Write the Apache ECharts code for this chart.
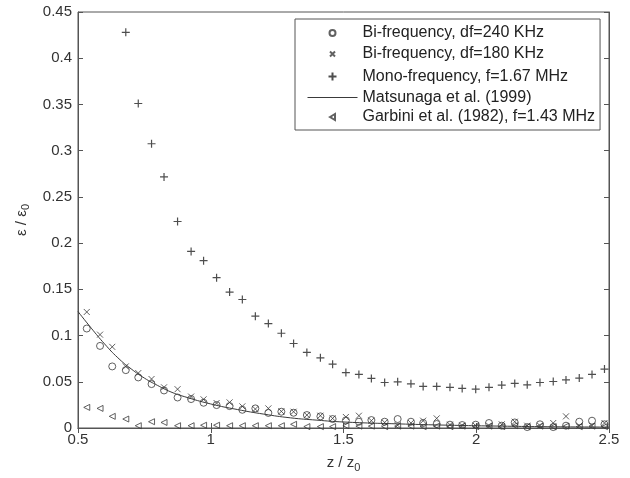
<!DOCTYPE html>
<html>
<head>
<meta charset="utf-8">
<script src="https://cdn.jsdelivr.net/npm/echarts@6/dist/echarts.min.js"></script>
<style>
  html, body { margin: 0; padding: 0; background: #fff; }
  #main { width: 630px; height: 478px; }
</style>
</head>
<body>
<div id="main"></div>
<script>
// z / z0 positions of the measurement points
var zPos = [0.533, 0.583, 0.629, 0.680, 0.727, 0.777, 0.824, 0.875, 0.926, 0.973,
  1.022, 1.071, 1.119, 1.168, 1.217, 1.266, 1.312, 1.362, 1.413, 1.459,
  1.509, 1.558, 1.605, 1.655, 1.704, 1.754, 1.800, 1.851, 1.901, 1.947,
  1.998, 2.048, 2.096, 2.145, 2.192, 2.240, 2.290, 2.338, 2.388, 2.436, 2.483];

var bi240 = [0.1076, 0.0888, 0.0666, 0.0626, 0.0547, 0.0475, 0.0406, 0.033, 0.0313, 0.0273,
  0.0248, 0.0237, 0.0197, 0.0212, 0.0163, 0.0176, 0.0165, 0.014, 0.0126, 0.0097,
  0.0082, 0.0068, 0.0086, 0.0068, 0.0097, 0.0068, 0.0054, 0.0043, 0.0036, 0.0032,
  0.0036, 0.0054, 0.0025, 0.006, 0.001, 0.004, 0.001, 0.0025, 0.0068, 0.0079, 0.004];

var bi180 = [0.1255, 0.101, 0.0878, 0.0666, 0.0594, 0.053, 0.044, 0.042, 0.034, 0.031,
  0.027, 0.0277, 0.0234, 0.0205, 0.0212, 0.018, 0.0176, 0.014, 0.0133, 0.0104,
  0.0119, 0.0133, 0.0079, 0.006, 0.003, 0.0054, 0.0079, 0.0104, 0.0036, 0.0025,
  0.0025, 0.0025, 0.004, 0.0068, 0.0025, 0.0025, 0.0054, 0.0126, 0.0025, 0.0025, 0.0054];

// mono-frequency starts at the 4th position
var mono = [0.428, 0.351, 0.3075, 0.2716, 0.2234, 0.191, 0.181, 0.1626, 0.147, 0.139,
  0.121, 0.113, 0.1025, 0.0914, 0.0817, 0.0759, 0.069, 0.060, 0.058, 0.0536,
  0.0492, 0.050, 0.0478, 0.045, 0.045, 0.044, 0.0428, 0.042, 0.044, 0.0464,
  0.0482, 0.0467, 0.0492, 0.0503, 0.052, 0.054, 0.058, 0.0637];

var garbini = [0.0223, 0.0212, 0.0126, 0.0097, 0.0025, 0.0068, 0.006, 0.0025, 0.0025, 0.003,
  0.003, 0.0025, 0.0025, 0.0025, 0.0025, 0.0025, 0.004, 0.0015, 0.0015, 0.0015,
  0.0025, 0.002, 0.002, 0.0015, 0.002, 0.002, 0.0015, 0.002, 0.0015, 0.002,
  0.0015, 0.002, 0.0015, 0.0025, 0.0015, 0.002, 0.0015, 0.002, 0.0015, 0.002, 0.0015];

// Matsunaga et al. (1999) curve
var matsuZ = [0.5, 0.55, 0.6, 0.65, 0.7, 0.75, 0.8, 0.85, 0.9, 1.0,
  1.1, 1.2, 1.3, 1.4, 1.5, 1.7, 1.9, 2.1, 2.3, 2.5];
var matsuE = [0.126, 0.108, 0.091, 0.076, 0.064, 0.054, 0.046, 0.039, 0.034, 0.026,
  0.02, 0.015, 0.011, 0.0085, 0.0065, 0.0045, 0.003, 0.002, 0.0013, 0.001];

var names = ['Bi-frequency, df=240 KHz', 'Bi-frequency, df=180 KHz',
  'Mono-frequency, f=1.67 MHz', 'Matsunaga et al. (1999)', 'Garbini et al. (1982), f=1.43 MHz'];

function pairs(xs, ys, offset) {
  var out = [];
  for (var i = 0; i < ys.length; i++) out.push([xs[i + offset], ys[i]]);
  return out;
}

var ink = '#3a3a3a';
var font = 'Liberation Sans, Arial, sans-serif';

// legend icons: the leading moves span the full 50x14 slot so the mark stays small
var box = 'path://M0,0M50,14';
var legendIcons = [
  box + 'M28,7A3,3,0,1,1,22,7A3,3,0,1,1,28,7Z',
  box + 'M22.5,4.5L27.5,9.5M27.5,4.5L22.5,9.5',
  box + 'M25,3L25,11M21,7L29,7',
  box + 'M0,6.5L50,6.5L50,7.5L0,7.5Z',
  box + 'M22.5,7L27.5,4L27.5,10Z'
];

var chart = echarts.init(document.getElementById('main'));

var option = {
  backgroundColor: '#fff',
  animation: false,
  textStyle: { fontFamily: font },
  grid: { left: 78, right: 21, top: 12, bottom: 49, show: true, borderColor: '#555', borderWidth: 1 },
  legend: {
    orient: 'vertical',
    left: 295,
    top: 19,
    padding: [6, 5, 5, 10],
    itemWidth: 50,
    itemHeight: 14,
    itemGap: 3.5,
    backgroundColor: '#fff',
    borderColor: '#555',
    borderWidth: 1,
    borderRadius: 0,
    textStyle: { fontSize: 16, lineHeight: 16, color: '#222', fontFamily: font },
    data: [
      { name: names[0], icon: legendIcons[0] },
      { name: names[1], icon: legendIcons[1] },
      { name: names[2], icon: legendIcons[2] },
      { name: names[3], icon: legendIcons[3], itemStyle: { color: ink, borderWidth: 0 } },
      { name: names[4], icon: legendIcons[4] }
    ]
  },
  xAxis: [{
    type: 'value', min: 0.5, max: 2.5, interval: 0.5,
    name: '{a|z / z}{b|0}', nameLocation: 'middle', nameGap: 24,
    nameTextStyle: { rich: {
      a: { fontSize: 15, color: '#333', fontFamily: font },
      b: { fontSize: 11, color: '#333', fontFamily: font, padding: [10, 0, 0, 0] }
    } },
    axisLine: { lineStyle: { color: '#555' } },
    axisTick: { inside: true, length: 5, lineStyle: { color: '#555' } },
    axisLabel: { fontSize: 15, color: '#333', margin: 4 },
    splitLine: { show: false }
  }, {
    type: 'value', min: 0.5, max: 2.5, interval: 0.5, position: 'top',
    axisLine: { lineStyle: { color: '#555' } },
    axisTick: { inside: true, length: 5, lineStyle: { color: '#555' } },
    axisLabel: { show: false },
    splitLine: { show: false }
  }],
  yAxis: [{
    type: 'value', min: 0, max: 0.45, interval: 0.05,
    name: '{a|ε / ε}{b|0}', nameLocation: 'middle', nameGap: 46, nameRotate: 90,
    nameTextStyle: { rich: {
      a: { fontSize: 15, color: '#333', fontFamily: font },
      b: { fontSize: 11, color: '#333', fontFamily: font, padding: [10, 0, 0, 0] }
    } },
    axisLine: { show: true, lineStyle: { color: '#555' } },
    axisTick: { show: true, inside: true, length: 5, lineStyle: { color: '#555' } },
    axisLabel: { fontSize: 15, color: '#333', margin: 6 },
    splitLine: { show: false }
  }, {
    type: 'value', min: 0, max: 0.45, interval: 0.05, position: 'right',
    axisLine: { show: true, lineStyle: { color: '#555' } },
    axisTick: { show: true, inside: true, length: 5, lineStyle: { color: '#555' } },
    axisLabel: { show: false },
    splitLine: { show: false }
  }],
  series: [{
    name: names[0], type: 'scatter', symbol: 'circle', symbolSize: 7,
    itemStyle: { color: 'rgba(255,255,255,0)', borderColor: ink, borderWidth: 1 },
    data: pairs(zPos, bi240, 0)
  }, {
    name: names[1], type: 'scatter', symbol: 'path://M0,0L10,10M10,0L0,10', symbolSize: 6,
    itemStyle: { color: 'none', borderColor: ink, borderWidth: 1 },
    data: pairs(zPos, bi180, 0)
  }, {
    name: names[2], type: 'scatter', symbol: 'path://M5,0L5,10M0,5L10,5', symbolSize: 8,
    itemStyle: { color: 'none', borderColor: '#222', borderWidth: 1.2 },
    data: pairs(zPos, mono, 3)
  }, {
    name: names[3], type: 'line', smooth: true, showSymbol: false, symbol: 'none',
    lineStyle: { color: ink, width: 1 }, itemStyle: { color: ink },
    data: pairs(matsuZ, matsuE, 0)
  }, {
    name: names[4], type: 'scatter', symbol: 'triangle', symbolRotate: 90, symbolSize: 6,
    itemStyle: { color: 'rgba(255,255,255,0)', borderColor: ink, borderWidth: 1 },
    data: pairs(zPos, garbini, 0)
  }]
};

chart.setOption(option);
</script>
</body>
</html>
